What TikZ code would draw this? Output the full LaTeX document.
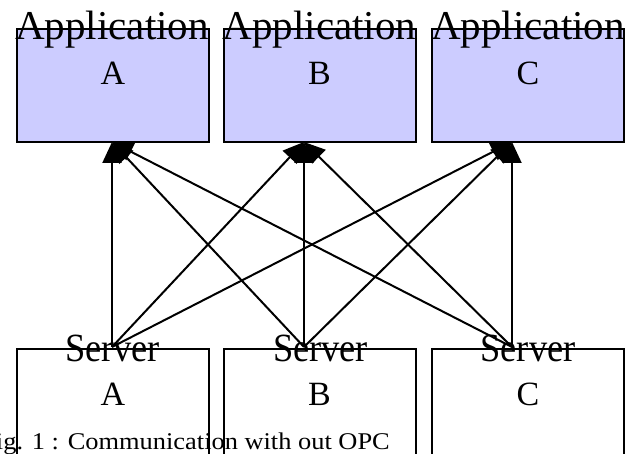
\documentclass[tikz,border=0pt]{standalone}
\usepackage{graphicx}
\usepackage{fontspec}
\setmainfont{Liberation Serif}
\usetikzlibrary{arrows.meta}
\definecolor{appfill}{RGB}{204,204,255}
\tikzset{
  appbox/.style={draw=black, line width=2pt, fill=appfill, minimum width=192pt, minimum height=113pt, inner sep=0pt},
  srvbox/.style={draw=black, line width=2pt, fill=white, minimum width=192pt, minimum height=140pt, inner sep=0pt},
  bigtxt/.style={anchor=base, inner sep=0pt, font=\fontsize{41}{41}\selectfont},
  lettxt/.style={anchor=base, inner sep=0pt, font=\fontsize{34}{34}\selectfont},
  conn/.style={line width=2pt, -{Triangle[length=21pt,width=19pt]}}
}
\begin{document}
\begin{tikzpicture}[x=1pt,y=-1pt]
\useasboundingbox (0,0) rectangle (631,454);
\clip (0,0) rectangle (631,454);
% application boxes
\node[appbox] (appA) at (113,85.5) {};
\node[appbox] (appB) at (319.5,85.5) {};
\node[appbox] (appC) at (528,85.5) {};
\node[bigtxt] (appAt) at (112,40) {Application};
\node[bigtxt] (appBt) at (319.5,40) {Application};
\node[bigtxt] (appCt) at (528,40) {Application};
\node[lettxt] (appAl) at (113,85) {A};
\node[lettxt] (appBl) at (319.5,85) {B};
\node[lettxt] (appCl) at (528,85) {C};
% server boxes
\node[srvbox] (srvA) at (113,419) {};
\node[srvbox] (srvB) at (319.5,419) {};
\node[srvbox] (srvC) at (528,419) {};
\node[anchor=base, inner sep=0pt] (srvAt) at (112.5,361) {\scalebox{0.91}[1]{\fontsize{40}{40}\selectfont Server}};
\node[anchor=base, inner sep=0pt] (srvBt) at (320.5,361) {\scalebox{0.91}[1]{\fontsize{40}{40}\selectfont Server}};
\node[anchor=base, inner sep=0pt] (srvCt) at (528,361) {\scalebox{0.91}[1]{\fontsize{40}{40}\selectfont Server}};
\node[lettxt] (srvAl) at (113,405) {A};
\node[lettxt] (srvBl) at (319.5,405) {B};
\node[lettxt] (srvCl) at (528,405) {C};
% connection points
\coordinate (sa) at (112,347);
\coordinate (sb) at (304,347);
\coordinate (sc) at (512,347);
\coordinate (ta) at (112,142);
\coordinate (tb) at (304,142);
\coordinate (tc) at (512,142);
\foreach \s in {sa,sb,sc}{
  \foreach \t in {ta,tb,tc}{
    \draw[conn] (\s) -- (\t);
  }
}
% caption
\node[anchor=base east, inner sep=0pt] (cap) at (390,449) {\scalebox{1.1}[1]{\fontsize{24}{24}\selectfont Fig. 1 : Communication with out OPC}};
\end{tikzpicture}
\end{document}
